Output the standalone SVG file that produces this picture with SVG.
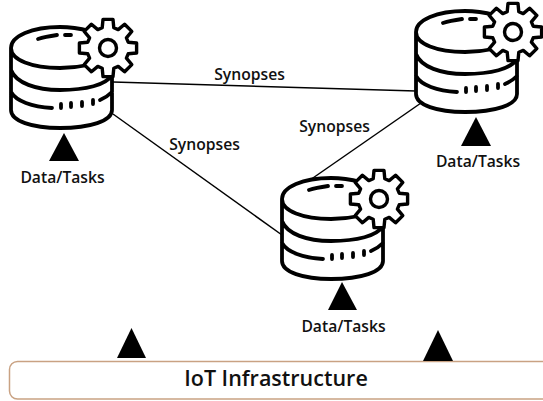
<svg xmlns="http://www.w3.org/2000/svg" width="543" height="401" viewBox="0 0 543 401">
<style>
.db{fill:none;stroke:#000;stroke-width:3.800;stroke-linecap:round;stroke-linejoin:round}
.gear{fill:#fff;stroke:#000;stroke-width:3.400;stroke-linejoin:round}
.tri{fill:#000}
.conn{stroke:#000;stroke-width:1.500;fill:none}
text{font-family:"Open Sans","Liberation Sans",sans-serif;font-weight:600;fill:#111}
.lb{font-size:15.700px;text-anchor:middle}
.big{font-size:21.500px;text-anchor:middle}
</style>
<defs>
<g id="dbgear">
<path class="db" d="M90,31C78,28 68,27 60,27C32,27 11,36 11,48C11,60 32,68 60,68C70,68 79,67 88,65M11,48V110C11,121 32,128 60,128C90,128 112,121 112,110V75M11,70C16,83 36,90 60,90C86,90 106,85 112,75M11,92C16,101 32,107 52,108M100,100C105,98 109,95 112,92M38,39C44,37 50,36 57,35M65,35H71"/>
<path class="db" d="M61,104V108M71,103V107M82,102V106M93,100V104"/>
<g transform="translate(108,48)">
<path class="gear" d="M-5,-28.6L5,-28.6L5.8,-20.2L10.2,-18.4L16.6,-23.8L23.8,-16.6L18.4,-10.2L20.2,-5.8L28.6,-5L28.6,5L20.2,5.8L18.4,10.2L23.8,16.6L16.6,23.8L10.2,18.4L5.8,20.2L5,28.6L-5,28.6L-5.8,20.2L-10.2,18.4L-16.6,23.8L-23.8,16.6L-18.4,10.2L-20.2,5.8L-28.6,5L-28.6,-5L-20.2,-5.8L-18.4,-10.2L-23.8,-16.6L-16.6,-23.8L-10.2,-18.4L-5.8,-20.2Z"/>
<circle class="gear" r="8.500"/>
</g>
</g>
</defs>
<g id="connectors">
<path class="conn" d="M113,82L416,91"/>
<path class="conn" d="M113,114L282,235"/>
<path class="conn" d="M310,180L421,103"/>
</g>
<g id="node-left">
<use href="#dbgear"/>
<polygon class="tri" points="64,133 49,161 79,161"/>
<text class="lb" x="62.500" y="183">Data/Tasks</text>
</g>
<g id="node-middle">
<use href="#dbgear" x="271" y="151"/>
<polygon class="tri" points="342,282 328,310 357,310"/>
<text class="lb" x="343.500" y="332">Data/Tasks</text>
</g>
<g id="node-right">
<use href="#dbgear" x="405" y="-16"/>
<polygon class="tri" points="476,117 461,146 491,146"/>
<text class="lb" x="478" y="167">Data/Tasks</text>
</g>
<g id="labels">
<text class="lb" x="249.500" y="80">Synopses</text>
<text class="lb" x="204.500" y="150">Synopses</text>
<text class="lb" x="334.500" y="132">Synopses</text>
</g>
<g id="iot-infrastructure">
<rect x="9.500" y="361.500" width="545" height="37.500" rx="8" fill="#fff" stroke="#c9a283" stroke-width="1.500"/>
<text class="big" x="276" y="386">IoT Infrastructure</text>
</g>
<g id="arrows-up">
<polygon class="tri" points="131.500,328 117,358 146,358"/>
<polygon class="tri" points="438,330 423,361 453,361"/>
</g>
</svg>
